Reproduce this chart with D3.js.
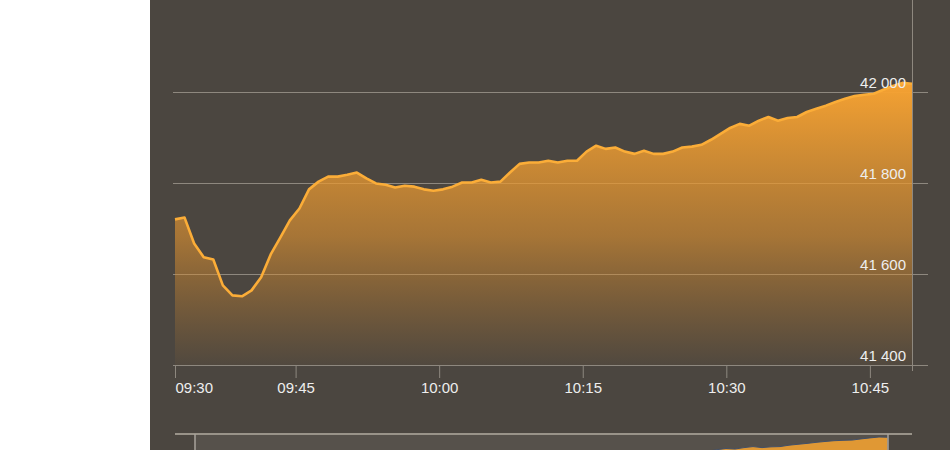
<!DOCTYPE html>
<html>
<head>
<meta charset="utf-8">
<script src="https://cdn.jsdelivr.net/npm/d3@7"></script>
<style>
  html, body { margin: 0; padding: 0; background: #ffffff; }
  #chart { width: 950px; height: 450px; overflow: hidden; }
  text { font-family: "Liberation Sans", Arial, sans-serif; }
</style>
</head>
<body>
<div id="chart"></div>
<script>
// index level, one reading per minute
const START_TIME = "09:32:24";
const VALUES = [
  41720, 41724, 41667, 41637, 41632, 41575, 41553, 41551, 41564, 41593,
  41643, 41680, 41718, 41744, 41786, 41803, 41814, 41814, 41818, 41823,
  41810, 41799, 41796, 41790, 41794, 41792, 41786, 41783, 41786, 41792,
  41801, 41801, 41807, 41801, 41803, 41823, 41842, 41845, 41845, 41849,
  41845, 41849, 41849, 41869, 41882, 41875, 41878, 41869, 41864, 41871,
  41864, 41864, 41869, 41878, 41880, 41884, 41895, 41908, 41921, 41930,
  41926, 41937, 41945, 41937, 41943, 41945, 41956, 41963, 41970, 41978,
  41985, 41991, 41994, 41996, 42005, 42013, 42020, 42018
];
const Y_TICKS = [41400, 41600, 41800, 42000];
const X_TICKS = ["09:45", "10:00", "10:15", "10:30", "10:45"];

const parseTime = d3.timeParse("%H:%M:%S");
const parseHM = d3.timeParse("%H:%M");
const t0 = parseTime(START_TIME);
const data = VALUES.map((v, i) => ({ t: d3.timeMinute.offset(t0, i), v }));

const W = 950, H = 450;
const plot = { left: 175, right: 912, top: 92, bottom: 365 };
const GRID = "#8e887f";

const svg = d3.select("#chart").append("svg")
  .attr("width", W).attr("height", H);

// dark panel
svg.append("rect").attr("x", 150).attr("y", 0)
  .attr("width", W - 150).attr("height", H).attr("fill", "#4b4640");

const x = d3.scaleTime()
  .domain([t0, data[data.length - 1].t])
  .range([plot.left, plot.right]);
const y = d3.scaleLinear().domain([41400, 42000]).range([plot.bottom, plot.top]);

const fmt = d3.formatLocale({ decimal: ",", thousands: " ", grouping: [3], currency: ["", ""] }).format(",d");
const quarter = d3.timeMinute.every(15);
const timeFmt = d3.timeFormat("%H:%M");

const defs = svg.append("defs");
const grad = defs.append("linearGradient").attr("id", "fillGrad")
  .attr("gradientUnits", "userSpaceOnUse")
  .attr("x1", 0).attr("x2", 0).attr("y1", 80).attr("y2", plot.bottom);
grad.append("stop").attr("offset", "0%").attr("stop-color", "#f7a332").attr("stop-opacity", 1);
grad.append("stop").attr("offset", "55%").attr("stop-color", "#e39430").attr("stop-opacity", 0.6);
grad.append("stop").attr("offset", "100%").attr("stop-color", "#c8822c").attr("stop-opacity", 0.05);

// grid lines
svg.append("g").selectAll("line").data(Y_TICKS).join("line")
  .attr("x1", 173).attr("x2", 928)
  .attr("y1", d => Math.round(y(d)) + 0.5).attr("y2", d => Math.round(y(d)) + 0.5)
  .attr("stroke", GRID).attr("stroke-width", 1);

// right vertical line
svg.append("line")
  .attr("x1", plot.right + 0.5).attr("x2", plot.right + 0.5)
  .attr("y1", 0).attr("y2", plot.bottom + 6)
  .attr("stroke", GRID).attr("stroke-width", 1);

// area + line
svg.append("path").datum(data)
  .attr("fill", "url(#fillGrad)")
  .attr("d", d3.area().x(d => x(d.t)).y0(plot.bottom).y1(d => y(d.v)));

svg.append("path").datum(data)
  .attr("fill", "none")
  .attr("stroke", "#fbad38")
  .attr("stroke-width", 2.6)
  .attr("stroke-linejoin", "round")
  .attr("d", d3.line().x(d => x(d.t)).y(d => y(d.v)));

// y labels
svg.append("g").selectAll("text").data(Y_TICKS).join("text")
  .attr("x", 906).attr("y", d => y(d) - 4)
  .attr("text-anchor", "end")
  .attr("fill", "#eeeeee").attr("font-size", 15)
  .text(d => fmt(d));

// x axis (first tick sits at the start of the data, labelled with its quarter hour)
const xAxis = svg.append("g")
  .attr("transform", `translate(0,${plot.bottom})`)
  .call(d3.axisBottom(x)
    .tickValues([t0, ...X_TICKS.map(parseHM)])
    .tickFormat(d => timeFmt(quarter.floor(d)))
    .tickSize(13).tickPadding(4));
xAxis.select(".domain").remove();
xAxis.selectAll(".tick line").attr("stroke", GRID);
xAxis.selectAll(".tick text")
  .attr("fill", "#eeeeee").attr("font-size", 15)
  .attr("font-family", "Liberation Sans, Arial, sans-serif");
xAxis.select(".tick:first-of-type text").attr("text-anchor", "start").attr("x", 0);

svg.append("line")
  .attr("x1", 173).attr("x2", 928)
  .attr("y1", plot.bottom + 0.5).attr("y2", plot.bottom + 0.5)
  .attr("stroke", GRID).attr("stroke-width", 1.2);

// navigator
const nav = { left: 195, right: 888, top: 437, bottom: 497 };
const nx = d3.scaleTime().domain(x.domain()).range([nav.left, nav.right]);
const ny = d3.scaleLinear().domain(d3.extent(VALUES)).range([nav.bottom, nav.top]);

svg.append("rect").attr("x", nav.left).attr("y", 434)
  .attr("width", nav.right - nav.left).attr("height", H - 434)
  .attr("fill", "#56514b");

svg.append("path").datum(data)
  .attr("fill", "#f0a032").attr("fill-opacity", 0.9)
  .attr("stroke", "#41506a").attr("stroke-width", 1)
  .attr("d", d3.area().x(d => nx(d.t)).y0(nav.bottom).y1(d => ny(d.v)));

svg.append("line")
  .attr("x1", 175).attr("x2", 912).attr("y1", 434).attr("y2", 434)
  .attr("stroke", "#999389").attr("stroke-width", 2);

svg.append("g").selectAll("line").data([nav.left, nav.right]).join("line")
  .attr("x1", d => d).attr("x2", d => d).attr("y1", 434).attr("y2", H)
  .attr("stroke", "#a8a39b").attr("stroke-width", 1.5);
</script>
</body>
</html>
